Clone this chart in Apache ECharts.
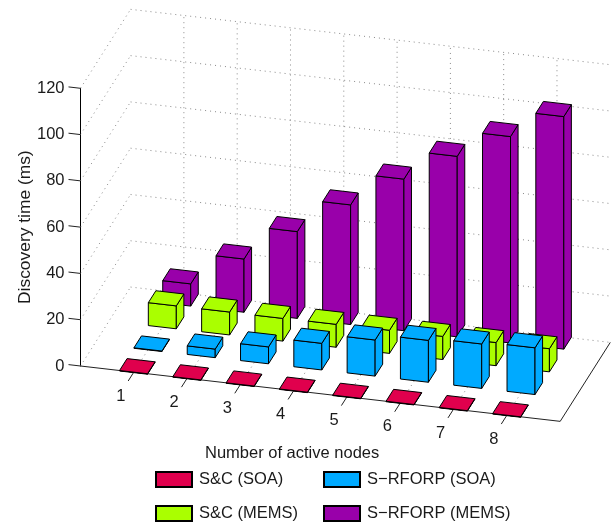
<!DOCTYPE html>
<html>
<head>
<meta charset="utf-8">
<style>html,body{margin:0;padding:0;background:#fff}#c{width:611px;height:522px}</style>
<script src="https://cdn.jsdelivr.net/npm/echarts@6/dist/echarts.min.js"></script>
</head>
<body>
<div id="c"></div>
<script>
var categories = [1, 2, 3, 4, 5, 6, 7, 8];
var yTicks = [0, 20, 40, 60, 80, 100, 120];
var scSoa = [0.2, 0.2, 0.2, 0.2, 0.2, 0.2, 0.2, 0.2];
var rforpSoa = [0.2, 3.7, 7.3, 11.5, 15.6, 18.1, 19.2, 20.2];
var scMems = [9.9, 9.9, 9.8, 9.9, 10, 10, 10, 10];
var rforpMems = [9.6, 23, 37.5, 51.7, 65.5, 78, 89.2, 100.5];

var FONT = '"Liberation Sans", Arial, sans-serif';
var FS = 16.5;
var XMAX = 9;            // x range of the floor, in category units
var DEPTH = 3.478;       // depth of the floor, in row units
var ROW0 = 0.243;        // front row centre
var HALF = 0.2625;       // half bar size
var DX = 14.4 / 53.3;    // screen shear of a row along x, in category units
var DY = 22.7 / 2.314;   // screen shear of a row along y, in value units
var CY = 6.15 / 2.314;   // screen shear of a category along y, in value units

function project(api, c, k, v) {
  return api.coord([c + k * DX, v - c * CY + k * DY]);
}

var wallSegments = [];
categories.forEach(function (c) {
  wallSegments.push([c, DEPTH, 0, c, DEPTH, 120]);
  wallSegments.push([c, 0, 0, c, DEPTH, 0]);
});
yTicks.forEach(function (t) {
  wallSegments.push([0, DEPTH, t, XMAX, DEPTH, t]);
  wallSegments.push([0, 0, t, 0, DEPTH, t]);
});

var frameSegments = [
  [0, 0, 0, XMAX, 0, 0],
  [XMAX, 0, 0, XMAX, DEPTH, 0]
];
yTicks.forEach(function (t) { frameSegments.push([0, 0, t, -0.225, 0, t]); });
categories.forEach(function (c) { frameSegments.push([c, 0, 0, c, -0.39, 0]); });

function segmentSeries(data, z, style) {
  return {
    type: 'custom', z: z, silent: true, clip: false, data: data,
    encode: { x: 0, y: 2 },
    renderItem: function (params, api) {
      var a = project(api, api.value(0), api.value(1), api.value(2));
      var b = project(api, api.value(3), api.value(4), api.value(5));
      return { type: 'line', shape: { x1: a[0], y1: a[1], x2: b[0], y2: b[1] }, style: style };
    }
  };
}

function barSeries(name, values, row, color, z) {
  return {
    type: 'custom', name: name, z: z, clip: false,
    itemStyle: { color: color, borderColor: '#000', borderWidth: 1 },
    encode: { x: 0, y: 1 },
    data: categories.map(function (c, i) { return [c, values[i]]; }),
    renderItem: function (params, api) {
      var c = api.value(0), v = api.value(1);
      var k = ROW0 + row;
      var x0 = c - HALF, x1 = c + HALF, k0 = k - HALF, k1 = k + HALF;
      var st = { fill: color, stroke: '#000', lineWidth: 1, lineJoin: 'round' };
      function poly(pts) {
        return { type: 'polygon', shape: { points: pts }, style: st };
      }
      return {
        type: 'group',
        children: [
          poly([project(api, x0, k0, 0), project(api, x1, k0, 0), project(api, x1, k0, v), project(api, x0, k0, v)]),
          poly([project(api, x1, k0, 0), project(api, x1, k1, 0), project(api, x1, k1, v), project(api, x1, k0, v)]),
          poly([project(api, x0, k0, v), project(api, x1, k0, v), project(api, x1, k1, v), project(api, x0, k1, v)])
        ]
      };
    }
  };
}

var labelSeries = {
  type: 'custom', z: 20, silent: true, clip: false,
  data: categories.map(function (c) { return [c]; }),
  encode: { x: 0 },
  renderItem: function (params, api) {
    var c = api.value(0);
    var p = project(api, c, 0, 0);
    return {
      type: 'text',
      style: {
        text: String(c), x: p[0] - 13, y: p[1] + 24,
        fill: '#1a1a1a', font: FS + 'px ' + FONT,
        textAlign: 'center', textVerticalAlign: 'middle'
      }
    };
  }
};

function legendBlock(names, left) {
  return {
    data: names, orient: 'vertical', left: left, top: 471, height: 51, padding: 0,
    icon: 'rect',
    itemWidth: 36, itemHeight: 15, itemGap: 17, selectedMode: false,
    textStyle: { fontFamily: FONT, fontSize: FS, color: '#1a1a1a', padding: [0, 0, 0, 2] }
  };
}

var chart = echarts.init(document.getElementById('c'));
chart.setOption({
  animation: false,
  backgroundColor: '#fff',
  textStyle: { fontFamily: FONT },
  title: {
    text: 'Number of active nodes', left: 200, top: 440,
    textStyle: { fontFamily: FONT, fontSize: FS, fontWeight: 'normal', color: '#1a1a1a' }
  },
  grid: { left: 80.5, top: 88.3, width: 479.7, height: 277.7, containLabel: false },
  xAxis: { type: 'value', min: 0, max: XMAX, show: false },
  yAxis: {
    type: 'value', min: 0, max: 120, interval: 20,
    name: 'Discovery time (ms)', nameLocation: 'middle', nameGap: 47, nameRotate: 90,
    nameMoveOverlap: false,
    nameTextStyle: { fontFamily: FONT, fontSize: 17.4, color: '#1a1a1a' },
    axisLine: { show: true, onZero: false, lineStyle: { color: '#000', width: 1 } },
    axisTick: { show: false },
    splitLine: { show: false },
    axisLabel: { margin: 16, fontFamily: FONT, fontSize: FS, color: '#1a1a1a' }
  },
  legend: [
    legendBlock(['S&C (SOA)', 'S&C (MEMS)'], 155),
    legendBlock(['S\u2212RFORP (SOA)', 'S\u2212RFORP (MEMS)'], 323)
  ],
  series: [
    segmentSeries(wallSegments, 1, { stroke: '#8a8a8a', lineWidth: 1, lineDash: [1, 4] }),
    barSeries('S\u2212RFORP (MEMS)', rforpMems, 3, '#9900aa', 3),
    barSeries('S&C (MEMS)', scMems, 2, '#aaff00', 4),
    barSeries('S\u2212RFORP (SOA)', rforpSoa, 1, '#00aaff', 5),
    segmentSeries(frameSegments, 6, { stroke: '#222', lineWidth: 1 }),
    barSeries('S&C (SOA)', scSoa, 0, '#e0004d', 7),
    labelSeries
  ]
});
</script>
</body>
</html>
